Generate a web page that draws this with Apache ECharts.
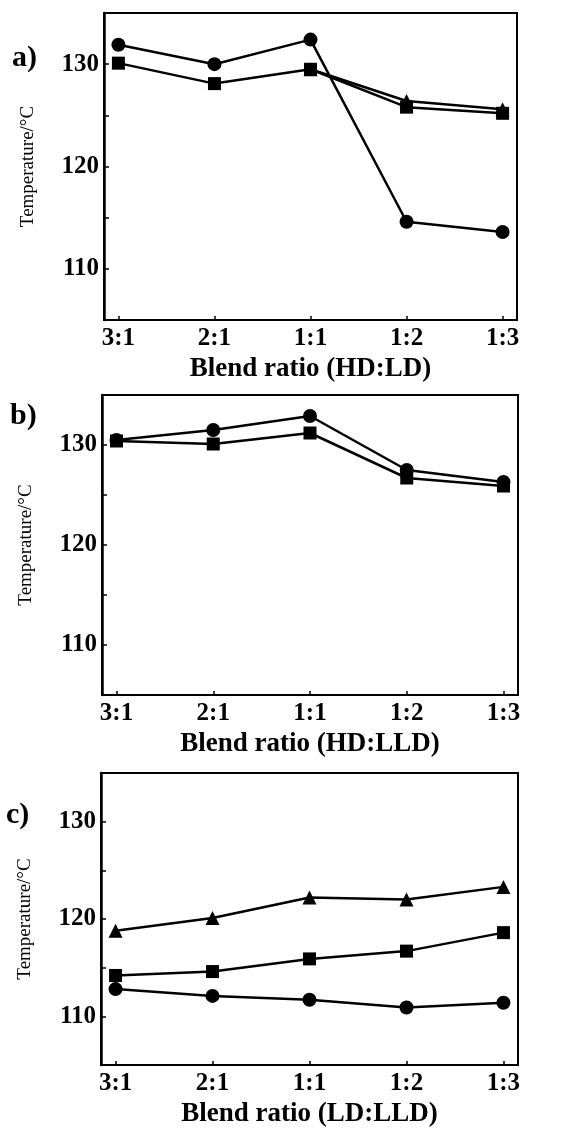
<!DOCTYPE html>
<html>
<head>
<meta charset="utf-8">
<script src="https://cdn.jsdelivr.net/npm/echarts@6/dist/echarts.min.js"></script>
<style>
html,body{margin:0;padding:0;background:#fff;}
#chart{width:583px;height:1130px;}
</style>
</head>
<body>
<div id="chart"></div>
<script>
// ---- data ----
var categories = ['3:1', '2:1', '1:1', '1:2', '1:3'];
var yTicks = [110, 120, 130];
var panelLabels = ['a)', 'b)', 'c)'];
var xTitles = ['Blend ratio (HD:LD)', 'Blend ratio (HD:LLD)', 'Blend ratio (LD:LLD)'];
var yTitle = 'Temperature/\u00B0C';

var aCircle   = [131.9, 130.0, 132.4, 114.6, 113.6];
var aSquare   = [130.1, 128.1, 129.5, 125.8, 125.2];
var aTriangle = [null, null, 129.5, 126.4, 125.6];

var bCircle   = [130.5, 131.5, 132.9, 127.5, 126.3];
var bSquare   = [130.4, 130.1, 131.2, 126.7, 125.9];

var cTriangle = [118.8, 120.1, 122.2, 122.0, 123.3];
var cSquare   = [114.2, 114.6, 115.9, 116.7, 118.6];
var cCircle   = [112.8, 112.1, 111.7, 110.9, 111.4];

// ---- layout ----
var grids = [
  {left: 104, top: 13, width: 413, height: 307},
  {left: 102, top: 395, width: 416, height: 300},
  {left: 101, top: 773, width: 417, height: 292}
];
var labelPos = [[27, 60], [25, 418], [21, 817]];

function toPts(arr) {
  var out = [];
  arr.forEach(function (v, i) { if (v !== null) out.push([i, v]); });
  return out;
}

var serif = 'Liberation Serif, Times New Roman, serif';
var xAxes = [], yAxes = [], series = [], graphics = [];

grids.forEach(function (g, k) {
  g.show = true; g.borderColor = '#000'; g.borderWidth = 2; g.backgroundColor = '#fff';
  xAxes.push({
    type: 'value', gridIndex: k, min: -0.15, max: 4.15,
    name: xTitles[k], nameLocation: 'middle', nameGap: 36,
    nameTextStyle: {fontFamily: serif, fontWeight: 'bold', fontSize: 27, color: '#000'},
    axisLine: {show: true, onZero: false, lineStyle: {color: '#000', width: 2}},
    axisTick: {show: true, inside: true, length: 4, customValues: [0, 1, 2, 3, 4], lineStyle: {color: '#000', width: 1.5}},
    axisLabel: {show: true, margin: 6, customValues: [0, 1, 2, 3, 4],
      fontFamily: serif, fontWeight: 'bold', fontSize: 25, color: '#000',
      formatter: function (v) { return categories[Math.round(v)] || ''; }},
    splitLine: {show: false}
  });
  yAxes.push({
    type: 'value', gridIndex: k, min: 105, max: 135, interval: 5,
    name: yTitle, nameLocation: 'middle', nameGap: 66, nameRotate: 90,
    nameTextStyle: {fontFamily: serif, fontSize: 19, color: '#000'},
    axisLine: {show: true, onZero: false, lineStyle: {color: '#000', width: 2.5}},
    axisTick: {show: true, inside: true, length: 5, lineStyle: {color: '#000', width: 1.5}},
    axisLabel: {show: true, margin: 5, fontFamily: serif, fontWeight: 'bold', fontSize: 25, color: '#000',
      formatter: function (v) { return yTicks.indexOf(v) >= 0 ? String(v) : ''; }},
    splitLine: {show: false}
  });
  graphics.push({
    type: 'text', left: labelPos[k][0] - 15, top: labelPos[k][1] - 17,
    style: {text: panelLabels[k], font: 'bold 30px ' + serif, fill: '#000'}
  });
});

function line(k, arr, symbol, size) {
  return {
    type: 'line', xAxisIndex: k, yAxisIndex: k, data: toPts(arr),
    symbol: symbol, symbolSize: size, showSymbol: true,
    lineStyle: {color: '#000', width: 2.5}, itemStyle: {color: '#000'},
    silent: true
  };
}

series.push(line(0, aTriangle, 'triangle', 14));
series.push(line(0, aSquare, 'rect', 13));
series.push(line(0, aCircle, 'circle', 14));
series.push(line(1, bCircle, 'circle', 14));
series.push(line(1, bSquare, 'rect', 13));
series.push(line(2, cTriangle, 'triangle', 14));
series.push(line(2, cSquare, 'rect', 13));
series.push(line(2, cCircle, 'circle', 14));

var chart = echarts.init(document.getElementById('chart'), null, {renderer: 'canvas'});
chart.setOption({
  animation: false,
  backgroundColor: '#fff',
  grid: grids,
  xAxis: xAxes,
  yAxis: yAxes,
  series: series,
  graphic: graphics
});
</script>
</body>
</html>
